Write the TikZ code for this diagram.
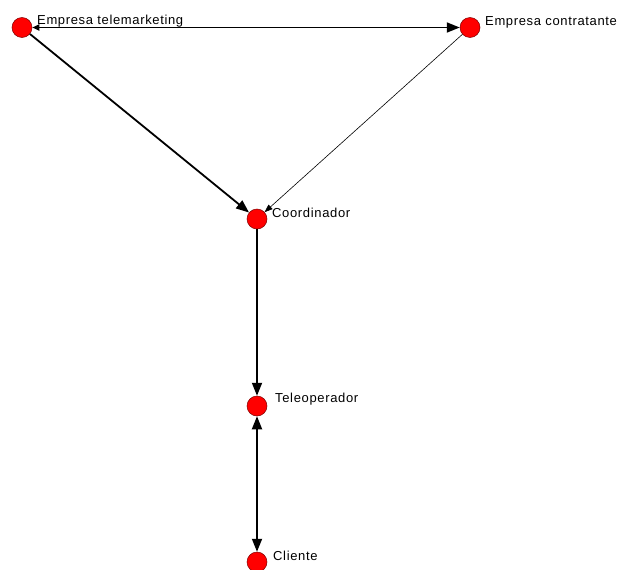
\documentclass[tikz,border=0pt]{standalone}
\usepackage{fontspec}
\setmainfont{Liberation Sans}[LetterSpace=5]
\usetikzlibrary{arrows.meta}
\begin{document}
\begin{tikzpicture}[x=1pt,y=-1pt,
  vert/.style={circle,fill=red,draw=red!50!black,line width=0.5pt,minimum size=20pt,inner sep=0pt},
  lbl/.style={anchor=base west,inner sep=0pt,font=\fontsize{13}{15}\selectfont},
  strong/.style={line width=1.8pt,-{Triangle[length=13pt,width=10pt]}},
  both/.style={line width=1.8pt,{Triangle[length=13pt,width=10pt]}-{Triangle[length=13pt,width=10pt]}},
  weak/.style={line width=0.6pt,-{Triangle[length=8pt,width=6pt]}}]
\useasboundingbox (0,0) rectangle (619,570);
\node[vert] (et) at (22,27.5) {};
\node[vert] (ec) at (470,27.5) {};
\node[vert] (co) at (257,219) {};
\node[vert] (te) at (257,406) {};
\node[vert] (cl) at (257,562) {};
\node[lbl] (let) at (37,24) {Empresa telemarketing};
\node[lbl] (lec) at (485,25) {Empresa contratante};
\node[lbl] (lco) at (272,217) {Coordinador};
\node[lbl] (lte) at (275,402) {Teleoperador};
\node[lbl] (lcl) at (273,560) {Cliente};
\draw[line width=1.8pt,{Triangle[length=7pt,width=6pt]}-{Triangle[length=13pt,width=10pt]}] (et) -- (ec);
\draw[strong] (et) -- (co);
\draw[weak] (ec) -- (co);
\draw[strong] (co) -- (te);
\draw[both] (te) -- (cl);
\end{tikzpicture}
\end{document}
